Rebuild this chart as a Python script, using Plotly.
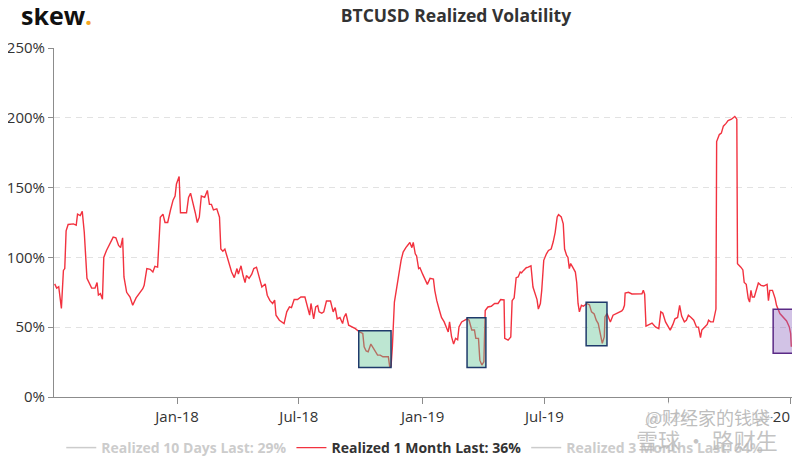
import plotly.graph_objects as go

# ---------------- data ----------------
month_dates = [
    "2017-07-03","2017-07-06","2017-07-09","2017-07-13","2017-07-16","2017-07-18","2017-07-20","2017-07-23","2017-07-31",
    "2017-08-04","2017-08-06","2017-08-10","2017-08-13","2017-08-16","2017-08-20","2017-08-24","2017-08-27",
    "2017-09-01","2017-09-04","2017-09-06","2017-09-09","2017-09-12","2017-09-14","2017-09-18","2017-09-23","2017-09-28",
    "2017-10-02","2017-10-06","2017-10-09","2017-10-12","2017-10-14","2017-10-18","2017-10-23","2017-10-27",
    "2017-11-01","2017-11-06","2017-11-11","2017-11-13","2017-11-17","2017-11-22","2017-11-26","2017-11-29",
    "2017-12-03","2017-12-07","2017-12-11","2017-12-14","2017-12-18","2017-12-22","2017-12-26","2017-12-29","2017-12-31",
    "2018-01-04","2018-01-06","2018-01-15","2018-01-18","2018-01-21","2018-01-24","2018-01-28","2018-01-31",
    "2018-02-03","2018-02-06","2018-02-11","2018-02-15","2018-02-18","2018-02-21","2018-02-24",
    "2018-03-01","2018-03-05","2018-03-07","2018-03-10","2018-03-13","2018-03-18","2018-03-23","2018-03-27","2018-03-31",
    "2018-04-02","2018-04-06","2018-04-09","2018-04-12","2018-04-14","2018-04-18","2018-04-22","2018-04-25","2018-04-29",
    "2018-05-03","2018-05-07","2018-05-12","2018-05-15","2018-05-19","2018-05-23","2018-05-26","2018-05-28",
    "2018-06-02","2018-06-05","2018-06-09","2018-06-13","2018-06-17","2018-06-20","2018-06-24","2018-06-29",
    "2018-07-04","2018-07-10","2018-07-14","2018-07-17","2018-07-19","2018-07-23","2018-07-26","2018-07-29","2018-07-31",
    "2018-08-04","2018-08-07","2018-08-11","2018-08-17","2018-08-21","2018-08-24","2018-08-27","2018-08-31",
    "2018-09-04","2018-09-06","2018-09-09","2018-09-13","2018-09-18","2018-09-23","2018-09-29",
    "2018-10-04","2018-10-06","2018-10-09","2018-10-12","2018-10-14","2018-10-16","2018-10-19","2018-10-22","2018-10-26","2018-10-30",
    "2018-11-03","2018-11-11","2018-11-13","2018-11-15","2018-11-17","2018-11-20","2018-11-22","2018-11-26","2018-11-30",
    "2018-12-03","2018-12-07","2018-12-11","2018-12-13","2018-12-16","2018-12-18","2018-12-21","2018-12-23","2018-12-26","2018-12-28",
    "2019-01-01","2019-01-04","2019-01-08","2019-01-12","2019-01-17","2019-01-19","2019-01-22","2019-01-26","2019-01-29",
    "2019-02-02","2019-02-05","2019-02-08","2019-02-10","2019-02-13","2019-02-16","2019-02-19","2019-02-22","2019-02-24","2019-02-28",
    "2019-03-04","2019-03-08","2019-03-11","2019-03-15","2019-03-19","2019-03-21","2019-03-25","2019-03-27","2019-03-30",
    "2019-04-02","2019-04-04","2019-04-08","2019-04-13","2019-04-18","2019-04-23","2019-04-27",
    "2019-05-02","2019-05-03","2019-05-08","2019-05-12","2019-05-14","2019-05-17","2019-05-20","2019-05-23","2019-05-26","2019-05-28","2019-05-31",
    "2019-06-04","2019-06-07","2019-06-11","2019-06-14","2019-06-17","2019-06-20","2019-06-22","2019-06-25","2019-06-27","2019-06-30",
    "2019-07-04","2019-07-07","2019-07-11","2019-07-14","2019-07-17","2019-07-20","2019-07-22","2019-07-26","2019-07-29","2019-07-31",
    "2019-08-03","2019-08-05","2019-08-07","2019-08-09","2019-08-12","2019-08-16","2019-08-18","2019-08-20","2019-08-22","2019-08-25","2019-08-28",
    "2019-09-02","2019-09-06","2019-09-09","2019-09-13","2019-09-16","2019-09-19","2019-09-23","2019-09-25","2019-09-28","2019-09-29",
    "2019-10-02","2019-10-04","2019-10-07","2019-10-11","2019-10-17","2019-10-22","2019-10-24","2019-10-26","2019-10-28","2019-10-29",
    "2019-11-03","2019-11-08","2019-11-15","2019-11-23","2019-11-25","2019-11-27","2019-11-29",
    "2019-12-03","2019-12-08","2019-12-13","2019-12-18","2019-12-21","2019-12-24","2019-12-28","2019-12-31",
    "2020-01-04","2020-01-08","2020-01-11","2020-01-15","2020-01-18","2020-01-21","2020-01-25","2020-01-28","2020-01-31",
    "2020-02-04","2020-02-08","2020-02-12","2020-02-15","2020-02-18","2020-02-20","2020-02-24","2020-02-28",
    "2020-03-01","2020-03-04","2020-03-08","2020-03-11","2020-03-12","2020-03-13","2020-03-17","2020-03-20","2020-03-23","2020-03-27","2020-03-30",
    "2020-04-04","2020-04-09","2020-04-12","2020-04-13","2020-04-18","2020-04-21","2020-04-23","2020-04-26","2020-04-29",
    "2020-05-01","2020-05-03","2020-05-05","2020-05-08","2020-05-11","2020-05-14","2020-05-18","2020-05-22","2020-05-27","2020-05-29","2020-05-31",
    "2020-06-04","2020-06-08","2020-06-10","2020-06-15","2020-06-20","2020-06-25","2020-06-29",
    "2020-07-01","2020-07-02",
]
month_vol = [
    81,78,79,63.5,90.7,92,119,123.6,124,
    123,131,130,133,118,85,81,78,
    78,82,73,74,70,100,105,110,114.5,
    114,108.6,107,114,86,75,71.6,65.7,
    71,74,77.6,80,92,91.5,89.5,93.6,
    93,128.8,131,125,125,133.6,141,144,152.6,
    157.9,132,132,143,146,140.7,132,125,
    128.8,144,143,148,138,138,134,
    134.8,128.8,106,104.5,106,97.9,89.5,85.5,92,
    88,94,87,82,87,85,88,92,93,
    85,78.8,81,72.9,69,67,69.5,58.6,
    55,53.8,52.6,61,64.5,64,69.8,69.8,
    71.6,71.6,64.5,58.6,67,56,64.5,65.5,61,
    60,61,68.8,68.8,61,64,56,57,
    52.6,57,59.8,51.4,50.2,49,46.6,
    45.5,36,33,32.4,34.8,37.9,35.5,33,30,30,
    28.8,28.8,21.7,22,36,68,75,86,98,
    103.8,107,110,110.7,107,110.7,102.6,101,92,92.6,
    88,85,80.7,85,84.5,76.4,69,62,57,
    53.8,50.2,46.6,53.8,43,37.9,42,41,50.2,53.8,
    55,56,55,48,48,42,42,26.4,22.9,
    25.2,62,64.5,65,67,67,69.8,
    69.5,42,40.7,43,69,71,85.5,86,89.5,89,90.7,
    92.6,93,94,78.8,74,69.8,63,67,76.4,97.9,
    102.6,105,106,111,118,129,130.7,129,124,106,
    101.4,100,92,95.6,93,89.5,82,67,61,65.7,65,
    67,66,61,59.5,55,52.6,44.3,38.4,43,57.4,
    59.8,57.4,53.8,58.6,59.8,61,61.7,63,65.7,74.5,
    75,73.8,73.8,74,76.4,73.6,50.7,
    51.6,53,50.2,49,61,60,53.8,51,
    47.9,52,56,57,65.7,58,53.8,55,58.6,
    57,55,50.2,50,42.6,48,50,52,
    55,53.8,53.8,62,63,183,188,189,194,196,198,
    199,201,199,95.5,93,91,82,80.7,70.5,
    68,76.4,71.6,71.6,77.6,81.7,80,79.5,80.7,69,76.4,
    76.4,70.5,65.7,59.8,57.4,54.5,50.2,
    45.5,36,
]

series_names = ["Realized 10 Days", "Realized 1 Month", "Realized 3 Months"]
series_last = [29, 36, 64]
last_date = "2020-07-02"

tick_dates = ["2018-01-01", "2018-07-01", "2019-01-01", "2019-07-01", "2020-01-01", "2020-07-01"]
tick_labels = ["Jan-18", "Jul-18", "Jan-19", "Jul-19", "Jan-20", "Jul-20"]

# highlighted windows (start, end, low %, high %)
box_start = ["2018-09-28", "2019-03-08", "2019-09-01", "2020-06-05"]
box_end = ["2018-11-15", "2019-04-05", "2019-10-02", "2020-07-06"]
box_low = [21.2, 21.2, 36.7, 31.3]
box_high = [47.4, 56.7, 67.8, 62.8]
box_kind = ["green", "green", "green", "purple"]

# ---------------- styles ----------------
FONT = "Open Sans, Noto Sans, sans-serif"
RED = "#f2323f"
box_styles = {
    "green": dict(fill="rgba(98,195,147,0.42)", line="#1f3a6b"),
    "purple": dict(fill="rgba(142,105,192,0.40)", line="#5a2a86"),
}
W, H = 792, 448          # page body has an 8px margin
L, T, R, B = 46, 40, 5.5, 59
PH = H - T - B

fig = go.Figure()

fig.add_trace(go.Scatter(
    x=[last_date], y=[series_last[0]], mode="lines", visible="legendonly",
    line=dict(color="#999999", width=1.5),
    name=f"<span style='color:#999999'>{series_names[0]} Last: {series_last[0]}%</span>",
))
fig.add_trace(go.Scatter(
    x=month_dates, y=month_vol, mode="lines",
    line=dict(color=RED, width=1.4),
    name=f"{series_names[1]} Last: {series_last[1]}%",
))
fig.add_trace(go.Scatter(
    x=[last_date], y=[series_last[2]], mode="lines", visible="legendonly",
    line=dict(color="#999999", width=1.5),
    name=f"<span style='color:#999999'>{series_names[2]} Last: {series_last[2]}%</span>",
))

for s, e, lo, hi, k in zip(box_start, box_end, box_low, box_high, box_kind):
    st = box_styles[k]
    fig.add_shape(type="rect", xref="x", yref="y", x0=s, x1=e, y0=lo, y1=hi,
                  fillcolor=st["fill"], line=dict(color=st["line"], width=1.5), layer="above")

fig.update_layout(
    width=W, height=H, autosize=False,
    margin=dict(l=L, r=R, t=T, b=B, pad=0, autoexpand=False),
    paper_bgcolor="white", plot_bgcolor="white",
    font=dict(family=FONT, color="#333333", size=14),
    title=dict(text="<b>BTCUSD Realized Volatility</b>", x=448 / W, xanchor="center",
               y=1 - 8 / H, yanchor="middle", font=dict(size=17.5, color="#333333", family=FONT)),
    showlegend=True,
    legend=dict(orientation="h", x=(407 - L) / (W - L - R), xanchor="center",
                y=-(424 - (H - B)) / PH, yanchor="top",
                font=dict(size=14, color="#333333", family=FONT, weight="bold"),
                itemwidth=30, bgcolor="rgba(0,0,0,0)"),
    hovermode=False,
)

fig.update_xaxes(
    type="date", range=["2017-07-02", "2020-07-06"],
    showline=True, linecolor="#8c8c8c", linewidth=1,
    ticks="outside", ticklen=6, tickcolor="#8c8c8c",
    tickvals=tick_dates, ticktext=tick_labels[:-1] + [""],
    showgrid=False, zeroline=False,
    tickfont=dict(size=15, color="#333333", family=FONT),
)
fig.update_yaxes(
    range=[0, 250], dtick=50, tick0=0, ticksuffix="%",
    showline=True, linecolor="#8c8c8c", linewidth=1,
    ticks="outside", ticklen=5, tickcolor="#8c8c8c",
    showgrid=True, gridcolor="#e2e2e2", griddash="6px,5px", gridwidth=1,
    zeroline=False,
    tickfont=dict(size=15, color="#333333", family=FONT),
)

# last x tick label, kept inside the page
fig.add_annotation(xref="x", yref="paper", x=tick_dates[-1], y=0, yshift=-19,
                   text=tick_labels[-1], showarrow=False, xanchor="right", xshift=1,
                   yanchor="middle", font=dict(size=15, color="#333333", family=FONT))

# logo
fig.add_annotation(xref="paper", yref="paper", x=(11 - L) / (W - L - R), y=(H - B - 7) / PH,
                   text="<b>skew</b><b><span style='color:#F5A623'>.</span></b>",
                   showarrow=False, xanchor="left", yanchor="middle",
                   font=dict(size=25, color="#111111", family=FONT))

# watermark
fig.add_annotation(xref="paper", yref="paper", x=(700 - L) / (W - L - R), y=-(409 - (H - B)) / PH,
                   text="@财经家的钱袋", showarrow=False, xanchor="center", yanchor="middle",
                   bgcolor="rgba(255,255,255,0.8)",
                   font=dict(size=18, color="rgba(185,185,185,0.95)", family="Noto Sans CJK SC"))
fig.add_annotation(xref="paper", yref="paper", x=(699 - L) / (W - L - R), y=-(431 - (H - B)) / PH,
                   text="雪球 · 路财生", showarrow=False, xanchor="center", yanchor="middle",
                   font=dict(size=22, color="rgba(185,185,185,0.85)", family="Noto Sans CJK SC"))

fig.write_html("out.html")
